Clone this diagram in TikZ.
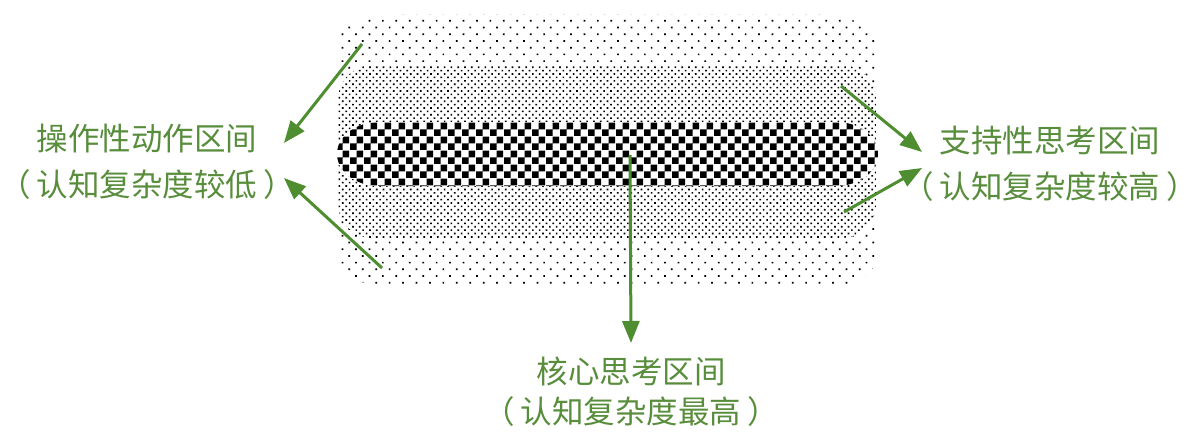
\documentclass[tikz,border=0pt]{standalone}
\usepackage{fontspec}
\newfontfamily\cjk{Noto Sans CJK SC}
\usetikzlibrary{arrows.meta,patterns,patterns.meta}
\definecolor{labelgreen}{RGB}{88,141,60}
\definecolor{arrowgreen}{RGB}{78,142,48}
\pgfdeclarepatternformonly{chequer}{\pgfqpoint{0pt}{0pt}}{\pgfqpoint{14pt}{14pt}}{\pgfqpoint{14pt}{14pt}}{%
	\pgfpathrectangle{\pgfqpoint{0pt}{0pt}}{\pgfqpoint{7pt}{7pt}}%
	\pgfpathrectangle{\pgfqpoint{7pt}{7pt}}{\pgfqpoint{7pt}{7pt}}%
	\pgfusepath{fill}}
\begin{document}
\begin{tikzpicture}[
		x=1pt, y=-1pt,
		band/.style={preaction={fill=white}},
		lbl/.style={align=center, text=labelgreen, inner sep=0pt, font=\cjk\fontsize{31.5}{46}\selectfont},
		arr/.style={draw=arrowgreen, line width=3pt, -{Triangle[length=22pt,width=17pt]}}
		]
		\useasboundingbox (0,0) rectangle (1200,444);
		
		% bands
		\fill[band, pattern={Dots[distance=9.5pt,angle=45,radius=1.2pt]}]
			(392,15) -- (822,15) arc[start angle=-90, end angle=0, x radius=55, y radius=30]
			-- (877,257) arc[start angle=0, end angle=90, x radius=55, y radius=30]
			-- (392,287) arc[start angle=90, end angle=180, x radius=55, y radius=30]
			-- (337,45) arc[start angle=180, end angle=270, x radius=55, y radius=30] -- cycle;
		\fill[band, pattern={Dots[distance=4.8pt,angle=45,radius=1.15pt]}]
			(373,65) -- (841,65) arc[start angle=-90, end angle=0, x radius=35, y radius=35]
			-- (876,203) arc[start angle=0, end angle=90, x radius=35, y radius=35]
			-- (373,238) arc[start angle=90, end angle=180, x radius=35, y radius=35]
			-- (338,100) arc[start angle=180, end angle=270, x radius=35, y radius=35] -- cycle;
		\fill[band, pattern=chequer]
			(379,122) -- (836,122) arc[start angle=-90, end angle=90, x radius=42, y radius=32]
			-- (379,186) arc[start angle=90, end angle=270, x radius=42, y radius=32] -- cycle;
		
		% labels
		\node[lbl] (opl) at (147,162) {操作性动作区间\\（\hspace{6pt}认知复杂度较低\hspace{6pt}）};
		\node[lbl] (spl) at (1050,164) {支持性思考区间\\（\hspace{6pt}认知复杂度较高\hspace{6pt}）};
		\node[lbl, font=\cjk\fontsize{31.5}{40}\selectfont] (cpl) at (631,392) {核心思考区间\\（\hspace{6pt}认知复杂度最高\hspace{6pt}）};
		
		\coordinate (oplu) at (362,44);
		\coordinate (opld) at (382,268);
		\coordinate (splu) at (841,86);
		\coordinate (spld) at (844,212);
		\coordinate (cplc) at (630,155);
		
		\draw[arr] (oplu) -- ([xshift=-11pt,yshift=19pt]opl.east);
		\draw[arr] (opld) -- ([xshift=-11pt,yshift=-16pt]opl.east);
		\draw[arr] (splu) -- ([xshift=20pt,yshift=12pt]spl.west);
		\draw[arr] (spld) -- ([xshift=20pt,yshift=-4pt]spl.west);
		\draw[arr] (cplc) -- ([yshift=14pt]cpl.north);
		
	\end{tikzpicture}
\end{document}
